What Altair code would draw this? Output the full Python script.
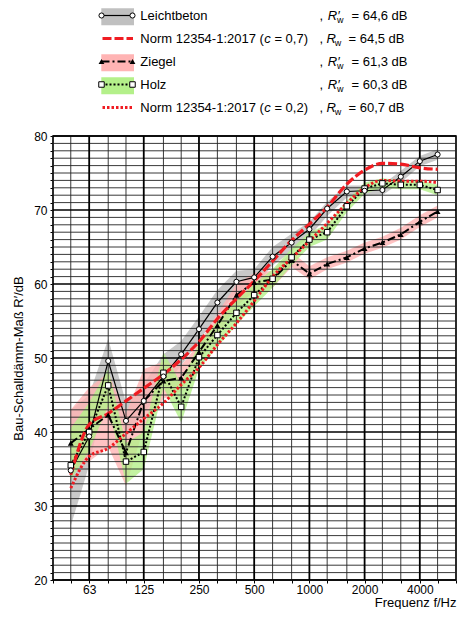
import altair as alt
import pandas as pd

# ---------------- data ----------------
freqs = [50, 63, 80, 100, 125, 160, 200, 250, 315, 400, 500, 630, 800, 1000,
         1250, 1600, 2000, 2500, 3150, 4000, 5000]

leichtbeton = [34.8, 39.4, 49.6, 41.5, 44.2, 47.5, 50.5, 53.9, 57.5, 60.3, 60.9,
               63.7, 65.6, 67.4, 70.2, 72.5, 72.6, 72.7, 74.5, 76.6, 77.5]
leicht_lo = [27.3, 35.5, 47.0, 39.5, 42.5, 46.0, 49.0, 52.3, 55.8, 58.9, 59.7,
             62.5, 64.4, 66.4, 69.2, 71.7, 71.9, 72.0, 73.7, 75.9, 76.8]
leicht_hi = [43.0, 45.0, 52.6, 44.0, 46.5, 50.5, 52.3, 55.6, 59.2, 61.8, 62.0,
             65.0, 66.8, 68.4, 71.1, 73.3, 73.3, 73.4, 75.3, 77.3, 78.2]

ziegel = [38.5, 40.4, 42.3, 37.2, 44.2, 46.9, 47.3, 50.8, 54.4, 58.5, 60.2,
          60.6, 63.2, 61.4, 62.7, 63.6, 64.8, 65.6, 66.7, 68.4, 69.8]
ziegel_lo = [35.0, 36.0, 38.0, 32.7, 40.5, 44.5, 45.5, 49.5, 53.0, 57.0, 59.0,
             59.5, 62.3, 60.6, 62.0, 62.9, 64.1, 64.9, 66.0, 67.7, 69.0]
ziegel_hi = [43.0, 46.0, 48.0, 42.5, 48.5, 49.5, 49.0, 52.0, 56.0, 60.0, 61.5,
             61.8, 64.3, 62.4, 63.6, 64.5, 65.6, 66.4, 67.6, 69.3, 70.6]

holz = [35.5, 40.0, 46.3, 36.0, 37.3, 48.0, 43.4, 50.1, 53.1, 56.1, 58.5,
        60.7, 63.6, 66.0, 67.0, 70.5, 72.9, 73.6, 73.4, 73.4, 72.7]
holz_lo = [33.5, 37.5, 43.5, 33.0, 35.0, 46.0, 41.3, 48.5, 51.5, 54.5, 57.0,
           59.5, 62.5, 65.0, 66.0, 69.7, 72.2, 73.0, 72.8, 72.8, 72.0]
holz_hi = [40.5, 44.0, 48.5, 38.5, 40.0, 50.8, 46.5, 52.0, 55.0, 57.8, 60.0,
           62.0, 64.8, 67.0, 68.0, 71.3, 73.7, 74.3, 74.0, 74.0, 73.4]

norm07 = [34.2, 41.0, 42.5, 44.2, 45.9, 47.8, 49.8, 52.2, 55.3, 58.0, 60.4,
          63.1, 65.9, 68.1, 70.4, 73.5, 75.4, 76.3, 76.2, 75.7, 75.5]
norm02 = [32.4, 36.7, 37.8, 39.8, 41.8, 43.9, 46.4, 48.7, 51.8, 54.7, 57.7,
          61.0, 63.5, 65.8, 68.2, 70.9, 73.0, 74.0, 73.9, 73.9, 73.7]

grid_freqs = [40] + freqs + [6300]
octave_freqs = [63, 125, 250, 500, 1000, 2000, 4000]
db_lines = list(range(20, 81))

# legend
leg_rows = [0, 1, 2, 3, 4]
leg_names = ["Leichtbeton", "Norm 12354-1:2017 (", "Ziegel", "Holz", "Norm 12354-1:2017 ("]
leg_name_c = ["", "c", "", "", "c"]
leg_name_tail = ["", "= 0,7)", "", "", "= 0,2)"]
leg_rsym = ["R\u2032", "R", "R\u2032", "R\u2032", "R"]
leg_vals = ["= 64,6 dB", "= 64,5 dB", "= 61,3 dB", "= 60,3 dB", "= 60,7 dB"]
leg_prime = [True, False, True, True, False]

# ---------------- layout constants ----------------
W, H = 403, 444
FONT = "Liberation Sans"
RED = "#f01c22"
GRAY_BAND = "#c0c0c0"
PINK_BAND = "#ffb4b4"
GREEN_BAND = "#b4f08a"

xscale = alt.Scale(type="log", domain=[40, 6300], nice=False)
yscale = alt.Scale(domain=[20, 80], nice=False, zero=False)

oct_js = "[" + ",".join(str(v) for v in octave_freqs) + "]"
xaxis = alt.Axis(values=grid_freqs, format="d",
                 labelExpr=f"indexof({oct_js}, datum.value) >= 0 ? datum.label : ''",
                 grid=False, domain=False, tickSize=3, tickColor="black", tickWidth=1,
                 labelPadding=1, labelOverlap=False, labelFlush=False,
                 labelFont=FONT, labelFontSize=12, labelColor="black",
                 title="Frequenz f/Hz", titleFont=FONT, titleFontSize=13,
                 titleFontWeight="normal", titleColor="black",
                 titleAnchor="end", titlePadding=1)
yaxis = alt.Axis(values=db_lines,
                 labelExpr="datum.value % 10 == 0 ? datum.label : ''",
                 grid=False, domain=False, tickSize=3, tickColor="black", tickWidth=1,
                 labelPadding=3, labelOverlap=False, labelFlush=False,
                 labelFont=FONT, labelFontSize=12, labelColor="black",
                 title="Bau-Schalldämm-Maß R\u2032/dB", titleFont=FONT, titleFontSize=13,
                 titleFontWeight="normal", titleColor="black", titlePadding=8)


def X(field="freq"):
    return alt.X(f"{field}:Q", scale=xscale, axis=xaxis)


def Y(field="v"):
    return alt.Y(f"{field}:Q", scale=yscale, axis=yaxis)


def sdf(vals):
    return pd.DataFrame({"freq": freqs, "v": vals})


def bdf(lo, hi):
    return pd.DataFrame({"freq": freqs, "lo": lo, "hi": hi})


# bands
bands = [
    alt.Chart(bdf(leicht_lo, leicht_hi)).mark_area(color=GRAY_BAND, opacity=0.85)
    .encode(x=X(), y=Y("lo"), y2="hi:Q"),
    alt.Chart(bdf(ziegel_lo, ziegel_hi)).mark_area(color=PINK_BAND, opacity=0.8)
    .encode(x=X(), y=Y("lo"), y2="hi:Q"),
    alt.Chart(bdf(holz_lo, holz_hi)).mark_area(color=GREEN_BAND, opacity=0.8)
    .encode(x=X(), y=Y("lo"), y2="hi:Q"),
]

# grid
vminor = pd.DataFrame({"freq": [f for f in grid_freqs if f not in octave_freqs]})
vmajor = pd.DataFrame({"freq": octave_freqs})
hminor = pd.DataFrame({"v": [d for d in db_lines if d % 10 != 0]})
hmajor = pd.DataFrame({"v": [d for d in db_lines if d % 10 == 0]})
grid = [
    alt.Chart(hminor).mark_rule(color="#222222", strokeWidth=0.9).encode(y=Y()),
    alt.Chart(vminor).mark_rule(color="#222222", strokeWidth=0.9).encode(x=X()),
    alt.Chart(hmajor).mark_rule(color="black", strokeWidth=1.6).encode(y=Y()),
    alt.Chart(vmajor).mark_rule(color="black", strokeWidth=1.8).encode(x=X()),
]

# lines
lines = [
    alt.Chart(sdf(ziegel)).mark_line(color="black", strokeWidth=2, strokeDash=[8, 3, 2, 3])
    .encode(x=X(), y=Y()),
    alt.Chart(sdf(holz)).mark_line(color="black", strokeWidth=2, strokeDash=[2, 2])
    .encode(x=X(), y=Y()),
    alt.Chart(sdf(leichtbeton)).mark_line(color="black", strokeWidth=1.2)
    .encode(x=X(), y=Y()),
    alt.Chart(sdf(norm07)).mark_line(color=RED, strokeWidth=3.2, strokeDash=[9, 3],
                                     interpolate="monotone")
    .encode(x=X(), y=Y()),
    alt.Chart(sdf(norm02)).mark_line(color=RED, strokeWidth=3, strokeDash=[2.5, 2],
                                     interpolate="monotone")
    .encode(x=X(), y=Y()),
]
points = [
    alt.Chart(sdf(ziegel)).mark_point(shape="triangle-up", filled=True, color="black", size=34,
                                      opacity=1)
    .encode(x=X(), y=Y()),
    alt.Chart(sdf(holz)).mark_point(shape="square", filled=True, fill="white", stroke="black",
                                    strokeWidth=1, size=30, opacity=1)
    .encode(x=X(), y=Y()),
    alt.Chart(sdf(leichtbeton)).mark_point(shape="circle", filled=True, fill="white",
                                           stroke="black", strokeWidth=1, size=26, opacity=1)
    .encode(x=X(), y=Y()),
]

main = alt.layer(*bands, *grid, *lines, *points)

# ---------------- legend (own scales) ----------------
ROW_H = 23.0
TOP_OFF = 120.5  # distance from plot top up to first legend row centre
lxs = alt.Scale(domain=[0, W], nice=False, zero=False)
lys = alt.Scale(domain=[TOP_OFF / ROW_H, TOP_OFF / ROW_H + H / ROW_H],
                nice=False, zero=False, reverse=True)


def LX(f):
    return alt.X(f"{f}:Q", scale=lxs, axis=None)


def LY(f):
    return alt.Y(f"{f}:Q", scale=lys, axis=None)


box_colors = [GRAY_BAND, None, PINK_BAND, GREEN_BAND, None]
boxes = pd.DataFrame({"r0": [r - 0.31 for r, c in zip(leg_rows, box_colors) if c],
                      "r1": [r + 0.42 for r, c in zip(leg_rows, box_colors) if c],
                      "x0": 48.3, "x1": 81.0,
                      "c": [c for c in box_colors if c]})
leg_layers = [
    alt.Chart(boxes).mark_rect().encode(x=LX("x0"), x2="x1:Q", y=LY("r0"), y2="r1:Q",
                                        color=alt.Color("c:N", scale=None)),
]


def seg(row, x0, x1):
    return pd.DataFrame({"x": [x0, x1], "r": [row, row]})


leg_layers += [
    alt.Chart(seg(0, 48.5, 79.5)).mark_line(color="black", strokeWidth=1.2)
    .encode(x=LX("x"), y=LY("r")),
    alt.Chart(seg(1, 49.5, 80)).mark_line(color=RED, strokeWidth=3.2, strokeDash=[9, 3])
    .encode(x=LX("x"), y=LY("r")),
    alt.Chart(seg(2, 48.5, 79.5)).mark_line(color="black", strokeWidth=2, strokeDash=[8, 3, 2, 3])
    .encode(x=LX("x"), y=LY("r")),
    alt.Chart(seg(3, 48.5, 79.5)).mark_line(color="black", strokeWidth=2, strokeDash=[2, 2])
    .encode(x=LX("x"), y=LY("r")),
    alt.Chart(seg(4, 49.5, 80)).mark_line(color=RED, strokeWidth=3, strokeDash=[2.5, 2])
    .encode(x=LX("x"), y=LY("r")),
    alt.Chart(seg(0, 48.5, 79.5)).mark_point(shape="circle", filled=True, fill="white",
                                             stroke="black", strokeWidth=1, size=26, opacity=1)
    .encode(x=LX("x"), y=LY("r")),
    alt.Chart(seg(2, 48.5, 79.5)).mark_point(shape="triangle-up", filled=True, color="black",
                                             size=34, opacity=1)
    .encode(x=LX("x"), y=LY("r")),
    alt.Chart(seg(3, 48.5, 79.5)).mark_point(shape="square", filled=True, fill="white",
                                             stroke="black", strokeWidth=1, size=30, opacity=1)
    .encode(x=LX("x"), y=LY("r")),
]

txt = dict(font=FONT, fontSize=13, color="black", align="left", baseline="middle")
names = pd.DataFrame({"r": leg_rows, "t": leg_names, "x": 87.3})
cparts = pd.DataFrame({"r": leg_rows, "t": leg_name_c, "x": 211.2})
ctails = pd.DataFrame({"r": leg_rows, "t": leg_name_tail, "x": 221.4})
commas = pd.DataFrame({"r": leg_rows, "t": ",", "x": 266.5})
rsyms = pd.DataFrame({"r": leg_rows, "t": leg_rsym,
                      "x": [274.8 if p else 273.5 for p in leg_prime]})
wsub = pd.DataFrame({"r": leg_rows, "t": "w",
                     "x": [284.0 if p else 281.8 for p in leg_prime]})
vals = pd.DataFrame({"r": leg_rows, "t": leg_vals,
                     "x": [298.5 if p else 295.5 for p in leg_prime]})

leg_layers += [
    alt.Chart(names).mark_text(**txt).encode(x=LX("x"), y=LY("r"), text="t:N"),
    alt.Chart(cparts).mark_text(**txt, fontStyle="italic").encode(x=LX("x"), y=LY("r"), text="t:N"),
    alt.Chart(ctails).mark_text(**txt).encode(x=LX("x"), y=LY("r"), text="t:N"),
    alt.Chart(commas).mark_text(**txt).encode(x=LX("x"), y=LY("r"), text="t:N"),
    alt.Chart(rsyms).mark_text(**txt, fontStyle="italic").encode(x=LX("x"), y=LY("r"), text="t:N"),
    alt.Chart(wsub).mark_text(font=FONT, fontSize=9, color="black", align="left",
                              baseline="middle", dy=4).encode(x=LX("x"), y=LY("r"), text="t:N"),
    alt.Chart(vals).mark_text(**txt).encode(x=LX("x"), y=LY("r"), text="t:N"),
]

legend = alt.layer(*leg_layers)

chart = (
    alt.layer(main, legend)
    .resolve_scale(x="independent", y="independent")
    .properties(width=W, height=H, background="white",
                padding={"left": 4, "top": 0, "right": 0, "bottom": 0})
    .configure_view(stroke="black", strokeWidth=1.6)
)

chart.save("out.html", embed_options={"renderer": "svg", "actions": False})
